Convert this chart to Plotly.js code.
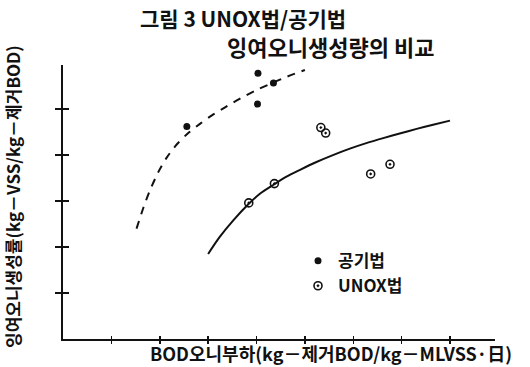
<!DOCTYPE html>
<html>
<head>
<meta charset="utf-8">
<script src="https://cdn.plot.ly/plotly-3.0.1.min.js"></script>
<style>
  body { margin: 0; background: #fff; }
  #chart { width: 530px; height: 367px; }
</style>
</head>
<body>
<div id="chart"></div>
<script>
// 공기법 measurements (filled dots)
const airX = [2.56, 4.03, 4.35, 4.02];
const airY = [4.62, 5.78, 5.57, 5.11];

// UNOX법 measurements (open dots)
const unoxX = [5.33, 5.43, 6.36, 6.76, 4.37, 3.84];
const unoxY = [4.60, 4.48, 3.59, 3.80, 3.38, 2.96];

// fitted curves
const airCurveX = [1.52, 1.66, 1.80, 1.97, 2.14, 2.35, 2.59, 2.83, 3.07, 3.35, 3.66, 3.97, 4.24, 4.59, 5.00];
const airCurveY = [2.40, 2.85, 3.24, 3.63, 3.94, 4.23, 4.48, 4.68, 4.86, 5.04, 5.23, 5.40, 5.53, 5.69, 5.85];
const unoxCurveX = [3.00, 3.24, 3.52, 3.83, 4.07, 4.36, 4.62, 4.90, 5.24, 5.58, 5.93, 6.27, 6.62, 6.96, 7.31, 7.65, 8.00];
const unoxCurveY = [1.85, 2.22, 2.58, 2.93, 3.16, 3.36, 3.53, 3.68, 3.85, 4.00, 4.14, 4.26, 4.37, 4.47, 4.57, 4.66, 4.75];

const xTicks = [1, 2, 3, 4, 5, 6, 7, 8];
const yTicks = [1, 2, 3, 4, 5];

const titleLines = ['그림 3 UNOX법/공기법', '잉여오니생성량의 비교'];
const xTitle = 'BOD오니부하(kg－제거BOD/kg－MLVSS·日)';
const yTitle = '잉여오니생성률(kg－VSS/kg－제거BOD)';

const FONT = '"Noto Sans CJK KR", "Noto Sans", sans-serif';
const INK = '#111';

const traces = [
    {
        x: airCurveX, y: airCurveY, mode: 'lines', type: 'scatter',
        line: { color: INK, width: 2, dash: '8px,7px', shape: 'spline', smoothing: 0.8 },
        showlegend: false, hoverinfo: 'skip'
    },
    {
        x: unoxCurveX, y: unoxCurveY, mode: 'lines', type: 'scatter',
        line: { color: INK, width: 2, shape: 'spline', smoothing: 0.8 },
        showlegend: false, hoverinfo: 'skip'
    },
    {
        x: airX, y: airY, mode: 'markers', type: 'scatter', name: '공기법',
        marker: { symbol: 'circle', size: 7, color: INK }
    },
    {
        x: unoxX, y: unoxY, mode: 'markers', type: 'scatter', name: 'UNOX법',
        marker: { symbol: 'circle-open-dot', size: 8, color: INK, line: { width: 1.6, color: INK } }
    }
];

const axisBase = {
    showgrid: false, zeroline: false, showticklabels: false,
    showline: true, linecolor: INK, linewidth: 2,
    tickmode: 'array', tickcolor: INK, tickwidth: 1.5
};

const ann = (text, x, y, size, extra) => Object.assign({
    text: text, x: x, y: y, xref: 'paper', yref: 'paper', showarrow: false,
    xanchor: 'center', yanchor: 'middle', font: { size: size, weight: 'bold' }
}, extra || {});

const layout = {
    width: 530, height: 367,
    margin: { l: 63, r: 35, t: 65, b: 28 },
    paper_bgcolor: '#fff', plot_bgcolor: '#fff',
    font: { family: FONT, color: INK },
    xaxis: Object.assign({}, axisBase, { range: [0, 8.93], tickvals: xTicks, ticks: 'outside', ticklen: 3 }),
    yaxis: Object.assign({}, axisBase, { range: [0, 5.96], tickvals: yTicks, ticks: 'outside', ticklen: 6 }),
    // overlay axes give the ticks that cross the axis line
    xaxis2: Object.assign({}, axisBase, { range: [0, 8.93], tickvals: xTicks, ticks: 'inside', ticklen: 3, overlaying: 'x', anchor: 'y' }),
    yaxis2: Object.assign({}, axisBase, { range: [0, 5.96], tickvals: yTicks, ticks: 'inside', ticklen: 6, overlaying: 'y', anchor: 'x' }),
    showlegend: true,
    legend: {
        x: 0.544, y: 0.35, xanchor: 'left', yanchor: 'top', bgcolor: 'rgba(0,0,0,0)',
        font: { size: 17, family: FONT, color: INK, weight: 'bold' },
        itemwidth: 30, tracegroupgap: 0
    },
    annotations: [
        ann(titleLines[0], 0.417, (339 - 18) / 274, 21),
        ann(titleLines[1], 0.620, (339 - 46) / 274, 22),
        ann(xTitle, 0.620, (339 - 353) / 274, 18),
        ann(yTitle, (12 - 63) / 432, (339 - 197) / 274, 17, { textangle: -90 })
    ]
};

// a hidden trace so the overlay axes get drawn
traces.push({ x: [0], y: [0], xaxis: 'x2', yaxis: 'y2', mode: 'markers', marker: { opacity: 0 }, showlegend: false, hoverinfo: 'skip' });

Plotly.newPlot('chart', traces, layout, { staticPlot: true });
</script>
</body>
</html>
